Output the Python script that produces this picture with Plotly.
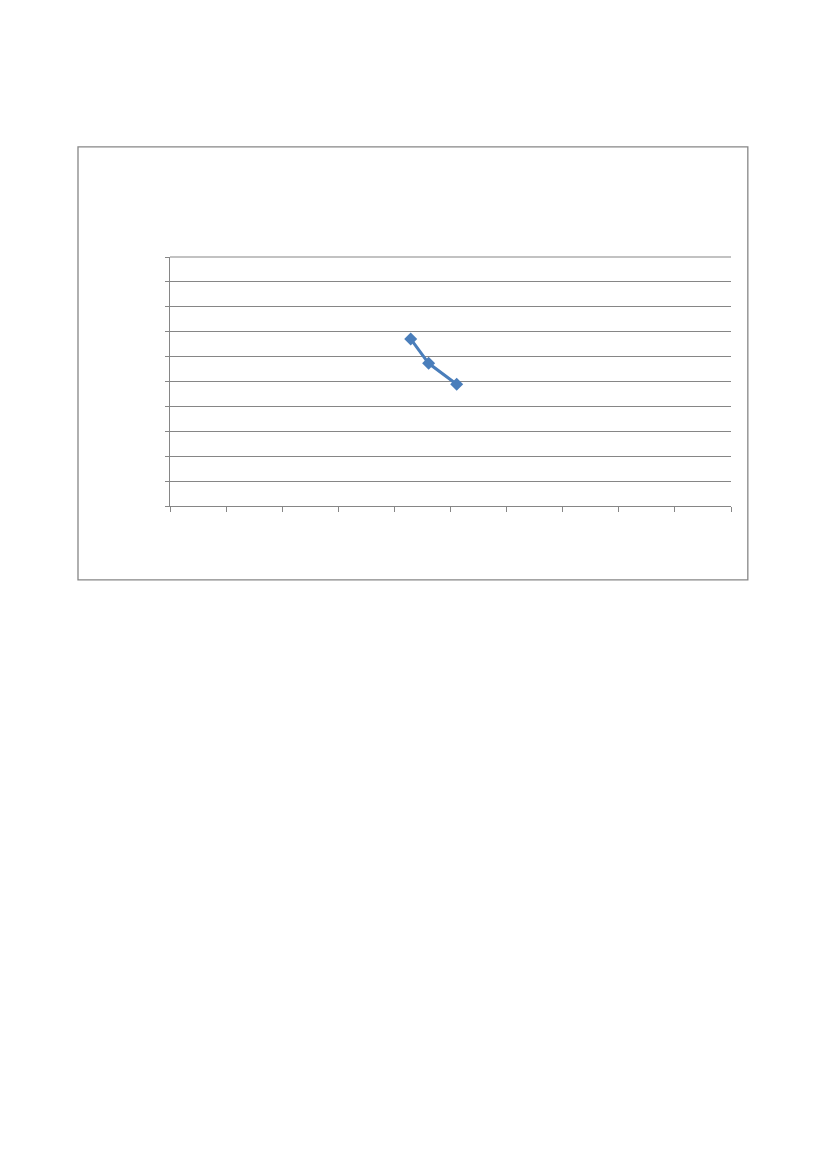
import plotly.graph_objects as go

# values (axes run 0..10, no labels shown)
x_values = [4.29, 4.61, 5.11]
y_values = [6.71, 5.73, 4.89]

grey = "#868686"
blue = "#4a7ebb"

fig = go.Figure()
fig.add_trace(go.Scatter(x=x_values, y=y_values,
                         mode="lines+markers",
                         line=dict(color=blue, width=3),
                         marker=dict(symbol="diamond", size=10, color=blue),
                         showlegend=False))

fig.update_layout(width=827, height=1169,
                  margin=dict(l=162, r=104, t=249, b=671),
                  paper_bgcolor="white", plot_bgcolor="white")

fig.update_xaxes(range=[0, 10], dtick=1, showgrid=False, zeroline=False,
                 showline=True, linecolor=grey, linewidth=1.3,
                 ticks="outside", ticklen=5, tickcolor=grey, tickwidth=1.3,
                 showticklabels=False)
fig.update_yaxes(range=[0, 10], dtick=1, showgrid=True, gridcolor=grey,
                 gridwidth=1.2, zeroline=False,
                 showline=True, linecolor=grey, linewidth=1.3,
                 ticks="outside", ticklen=4, tickcolor=grey, tickwidth=1.3,
                 showticklabels=False)

# top gridline (plotly skips the one on the range edge)
fig.add_shape(type="line", xref="paper", yref="paper",
              x0=0, x1=1, y0=1, y1=1,
              line=dict(color=grey, width=1.2), layer="below")

# chart area border
fig.add_shape(type="rect", xref="paper", yref="paper",
              x0=-0.164, x1=1.030, y0=-0.297, y1=1.442,
              line=dict(color=grey, width=1.3), layer="below")

fig.write_html("out.html")
